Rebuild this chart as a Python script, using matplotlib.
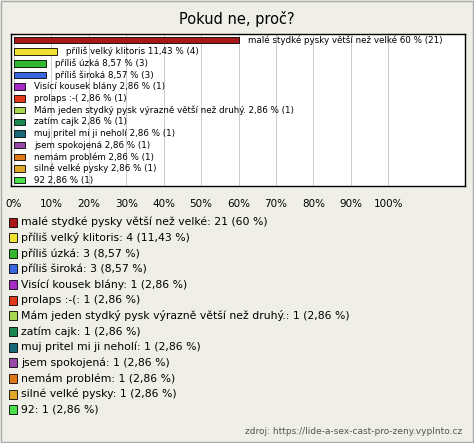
import matplotlib
matplotlib.use("Agg")
import matplotlib.pyplot as plt
from matplotlib.patches import Rectangle

labels = ["malé stydké pysky větší než velké", "příliš velký klitoris", "příliš úzká", "příliš široká",
          "Visící kousek blány", "prolaps :-(", "Mám jeden stydký pysk výrazně větší než druhý.",
          "zatím cajk", "muj pritel mi ji neholí", "jsem spokojená", "nemám problém", "silné velké pysky", "92"]
counts = [21, 4, 3, 3, 1, 1, 1, 1, 1, 1, 1, 1, 1]
pcts = [60, 11.43, 8.57, 8.57, 2.86, 2.86, 2.86, 2.86, 2.86, 2.86, 2.86, 2.86, 2.86]
colors = ["#a81818", "#f0e030", "#30b830", "#3868e0", "#a828c8", "#e03818", "#a8d850", "#188850",
          "#186878", "#9848a8", "#e07818", "#e0a828", "#48e048"]
ticks = [0, 10, 20, 30, 40, 50, 60, 70, 80, 90, 100]

def fmt(v):
    return (("%g" % v).replace(".", ","))

bg = "#efefe7"
fig = plt.figure(figsize=(4.74, 4.43), dpi=100, facecolor=bg)
fig.patches.append(Rectangle((0.002, 0.002), 0.996, 0.996, transform=fig.transFigure,
                             fill=False, edgecolor="#aaaaaa", lw=1))
fig.text(0.5, 0.958, "Pokud ne, proč?", ha="center", va="center", fontsize=10.5)
ax = fig.add_axes([0.023, 0.58, 0.958, 0.343])
ax.set_facecolor("white")
n = len(labels)
ys = list(range(n))
ax.barh(ys, pcts, height=0.55, color=colors, edgecolor="black", linewidth=0.6, zorder=3)
for y, p, c, l in zip(ys, pcts, counts, labels):
    ax.text(p + 2.5, y, "%s %s %% (%d)" % (l, fmt(p), c), va="center", fontsize=6.3, zorder=4)
ax.set_ylim(n - 0.5, -0.5)
ax.set_xlim(-0.8, 120.5)
ax.set_xticks(ticks)
ax.set_xticklabels(["%d%%" % t for t in ticks], fontsize=7.5)
ax.grid(axis="x", color="#cccccc", lw=0.7, zorder=0)
ax.set_yticks([])
ax.tick_params(axis="x", length=0, pad=9)
for s in ax.spines.values():
    s.set_linewidth(1.0)

y0 = 222
dy = 15.65
for i, (l, c, p, col) in enumerate(zip(labels, counts, pcts, colors)):
    yp = y0 + i * dy
    yf = 1 - yp / 443
    fig.patches.append(Rectangle((9 / 474, yf - 4.5 / 443), 8 / 474, 9 / 443, transform=fig.transFigure,
                                 facecolor=col, edgecolor="black", lw=0.6))
    fig.text(21 / 474, yf, "%s: %d (%s %%)" % (l, c, fmt(p)), va="center", fontsize=7.8)
fig.text(0.975, 1 - 431 / 443, "zdroj: https://lide-a-sex-cast-pro-zeny.vyplnto.cz", ha="right",
         va="center", fontsize=6.5, color="#555555")
fig.savefig("out.png", dpi=100, facecolor=bg)
